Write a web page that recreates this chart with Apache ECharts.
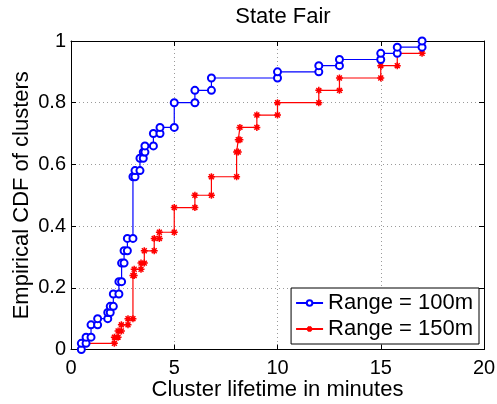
<!DOCTYPE html>
<html>
<head>
<meta charset="utf-8">
<script src="https://cdn.jsdelivr.net/npm/echarts@6/dist/echarts.min.js"></script>
<style>
  html, body { margin: 0; padding: 0; background: #fff; }
  #chart { width: 497px; height: 404px; }
</style>
</head>
<body>
<div id="chart"></div>
<script>
// Cluster lifetimes (minutes), one entry per observed cluster
const lifetimes100 = [
  0.5, 0.73, 0.97, 0.97, 1.29, 1.78, 1.9, 2.05, 2.05,
  2.32, 2.32, 2.45, 2.45, 2.45, 2.57, 2.57, 2.73, 2.73,
  3.0, 3.0, 3.0, 3.0, 3.0, 3.0, 3.0, 3.0, 3.0, 3.0,
  3.1, 3.34, 3.34, 3.5, 3.58, 3.99, 3.99, 4.31,
  5.0, 5.0, 5.0, 5.0, 6.0, 6.0, 6.8, 6.8,
  10.0, 12.0, 13.0, 15.0, 15.8, 17.0
];
const lifetimes150 = [
  0.5, 2.1, 2.28, 2.44, 2.76,
  3.0, 3.0, 3.0, 3.0, 3.0, 3.0, 3.0,
  3.06, 3.39, 3.55, 3.55, 4.03, 4.03, 4.28,
  5.0, 5.0, 5.0, 5.0, 6.0, 6.0, 6.8, 6.8, 6.8,
  8.02, 8.02, 8.02, 8.02, 8.1, 8.1, 8.18, 8.18,
  9.0, 9.0, 10.0, 10.0, 12.0, 12.0, 13.0, 13.0,
  15.0, 15.0, 15.8, 15.8, 17.0, 17.0
];
const seriesNames = ['Range = 100m', 'Range = 150m'];
const xTicks = [0, 5, 10, 15, 20];
const yTicks = [0, 0.2, 0.4, 0.6, 0.8, 1];

// Empirical CDF drawn as a staircase: vertices at the bottom and top of each jump
function ecdfStairs(samples) {
  const s = samples.slice().sort((a, b) => a - b);
  const n = s.length;
  const pts = [];
  let prev = 0;
  let i = 0;
  while (i < n) {
    const x = s[i];
    let j = i;
    while (j < n && s[j] === x) j++;
    const f = j / n;
    pts.push([x, prev]);
    pts.push([x, f]);
    prev = f;
    i = j;
  }
  return pts;
}

const FONT = 'Liberation Sans, Arial, Helvetica, sans-serif';
const asterisk = 'path://M0,-10L0,10M-10,0L10,0M-7,-7L7,7M-7,7L7,-7';

const chart = echarts.init(document.getElementById('chart'), null, { renderer: 'canvas' });

const hiddenAxisLabel = { show: false };
const option = {
  animation: false,
  backgroundColor: '#ffffff',
  title: {
    text: 'State Fair',
    left: 278,
    top: 1,
    textAlign: 'center',
    textStyle: { fontFamily: FONT, fontSize: 22, fontWeight: 'normal', color: '#000' }
  },
  grid: { left: 71, top: 41, right: 13, bottom: 54.5, containLabel: false, outerBoundsMode: 'none' },
  legend: {
    orient: 'vertical',
    right: 18,
    top: 288,
    itemWidth: 27,
    itemHeight: 7,
    itemGap: 4,
    padding: [4, 6, 4, 4],
    backgroundColor: '#ffffff',
    borderColor: '#000000',
    borderWidth: 1,
    textStyle: { fontFamily: FONT, fontSize: 22, color: '#000' },
    data: seriesNames
  },
  xAxis: [{
    type: 'value',
    min: 0, max: 20, interval: 5,
    name: 'Cluster lifetime in minutes',
    nameLocation: 'middle',
    nameGap: 29,
    nameMoveOverlap: false,
    nameTextStyle: { fontFamily: FONT, fontSize: 22, color: '#000' },
    axisLine: { show: true, onZero: false, lineStyle: { color: '#000', width: 1 } },
    axisTick: { show: true, inside: true, length: 5, lineStyle: { color: '#000' } },
    axisLabel: {
      fontFamily: FONT, fontSize: 20, color: '#000', margin: 9,
      formatter: v => String(xTicks.find(t => t === v) ?? v)
    },
    splitLine: { show: true, lineStyle: { color: '#9a9a9a', type: [1, 3], width: 1 } }
  }, {
    type: 'value', position: 'top',
    min: 0, max: 20, interval: 5,
    axisLine: { show: true, onZero: false, lineStyle: { color: '#000', width: 1 } },
    axisTick: { show: true, inside: true, length: 5, lineStyle: { color: '#000' } },
    axisLabel: hiddenAxisLabel,
    splitLine: { show: false }
  }],
  yAxis: [{
    type: 'value',
    min: 0, max: 1, interval: 0.2,
    name: 'Empirical CDF of clusters',
    nameLocation: 'middle',
    nameGap: 38,
    nameMoveOverlap: false,
    nameTextStyle: { fontFamily: FONT, fontSize: 22, color: '#000' },
    axisLine: { show: true, onZero: false, lineStyle: { color: '#000', width: 1 } },
    axisTick: { show: true, inside: true, length: 5, lineStyle: { color: '#000' } },
    axisLabel: {
      fontFamily: FONT, fontSize: 20, color: '#000', margin: 5,
      formatter: v => {
        const t = yTicks.find(k => Math.abs(k - v) < 1e-9);
        return String(t !== undefined ? t : v);
      }
    },
    splitLine: { show: true, lineStyle: { color: '#9a9a9a', type: [1, 3], width: 1 } }
  }, {
    type: 'value', position: 'right',
    min: 0, max: 1, interval: 0.2,
    axisLine: { show: true, onZero: false, lineStyle: { color: '#000', width: 1 } },
    axisTick: { show: true, inside: true, length: 5, lineStyle: { color: '#000' } },
    axisLabel: hiddenAxisLabel,
    splitLine: { show: false }
  }],
  series: [{
    name: seriesNames[0],
    type: 'line',
    data: ecdfStairs(lifetimes100),
    symbol: 'emptyCircle',
    symbolSize: 7,
    showAllSymbol: true,
    lineStyle: { color: '#0000ff', width: 1.2 },
    itemStyle: { color: '#0000ff', borderColor: '#0000ff', borderWidth: 1.2 },
    z: 3
  }, {
    name: seriesNames[1],
    type: 'line',
    data: ecdfStairs(lifetimes150),
    symbol: asterisk,
    symbolSize: 7,
    showAllSymbol: true,
    lineStyle: { color: '#ff0000', width: 1.2 },
    itemStyle: { color: '#ff0000', borderColor: '#ff0000', borderWidth: 1.5 },
    z: 2
  }]
};

chart.setOption(option);
</script>
</body>
</html>
